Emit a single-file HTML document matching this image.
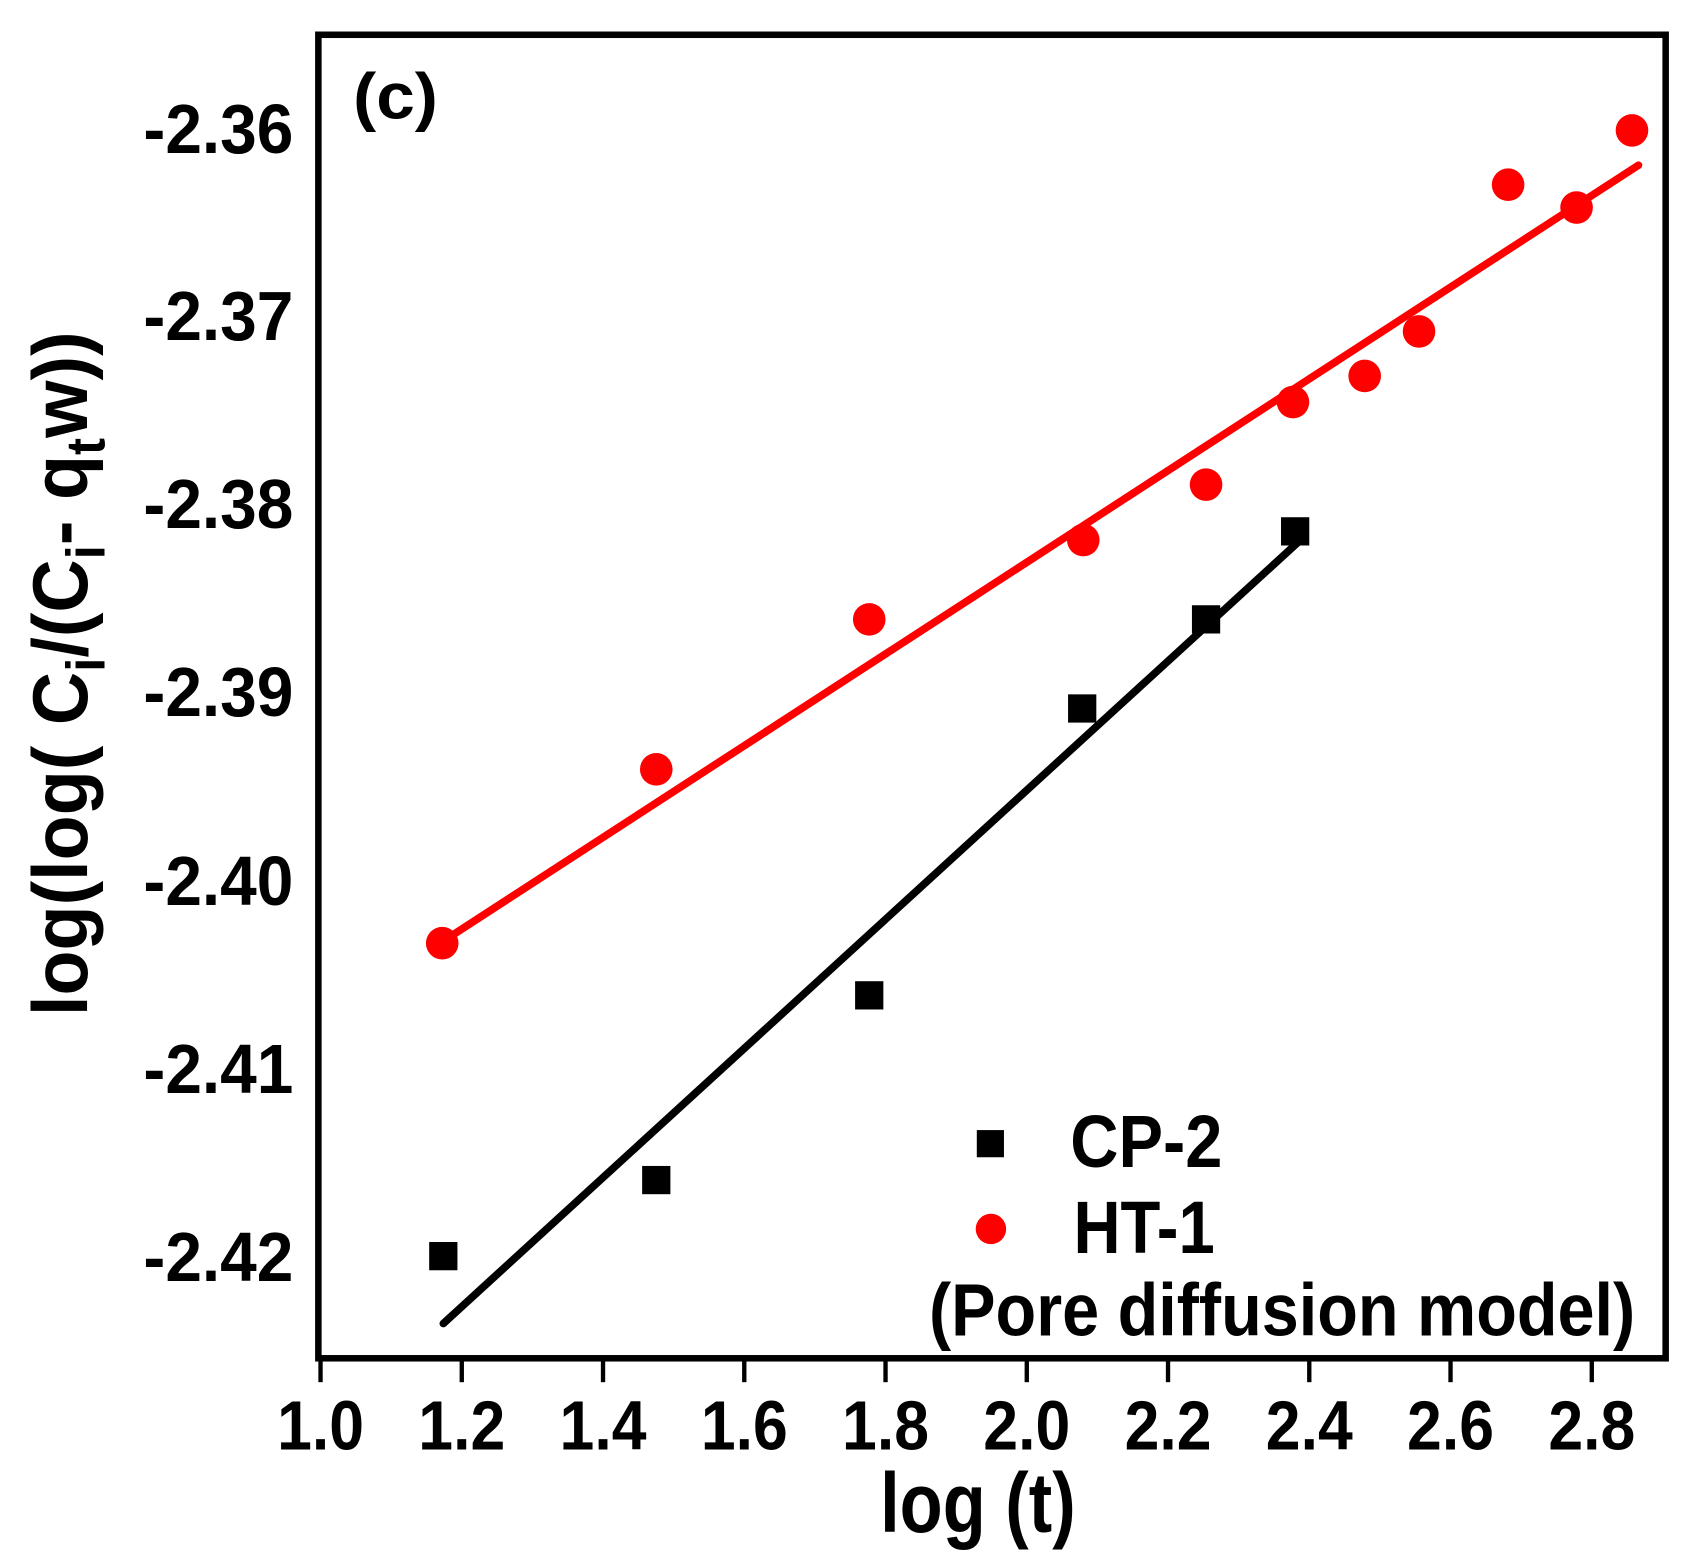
<!DOCTYPE html>
<html><head><style>html,body{margin:0;padding:0;background:#fff}svg{display:block}</style></head>
<body>
<svg width="1695" height="1568" viewBox="0 0 1560 1443" preserveAspectRatio="none" xmlns="http://www.w3.org/2000/svg" font-family="'Liberation Sans', sans-serif" font-weight="bold">
<rect x="293" y="32" width="1240" height="1218" fill="none" stroke="#000" stroke-width="6"/>
<g stroke="#000" stroke-width="4">
<line x1="295" y1="1250" x2="295" y2="1272"/><line x1="425" y1="1250" x2="425" y2="1272"/><line x1="555" y1="1250" x2="555" y2="1272"/><line x1="685" y1="1250" x2="685" y2="1272"/><line x1="815" y1="1250" x2="815" y2="1272"/><line x1="945" y1="1250" x2="945" y2="1272"/><line x1="1075" y1="1250" x2="1075" y2="1272"/><line x1="1205" y1="1250" x2="1205" y2="1272"/><line x1="1335" y1="1250" x2="1335" y2="1272"/><line x1="1465" y1="1250" x2="1465" y2="1272"/>
</g>
<g font-size="64" text-anchor="middle">
<text x="295" y="1334" textLength="80" lengthAdjust="spacingAndGlyphs">1.0</text>
<text x="425" y="1334" textLength="80" lengthAdjust="spacingAndGlyphs">1.2</text>
<text x="555" y="1334" textLength="80" lengthAdjust="spacingAndGlyphs">1.4</text>
<text x="685" y="1334" textLength="80" lengthAdjust="spacingAndGlyphs">1.6</text>
<text x="815" y="1334" textLength="80" lengthAdjust="spacingAndGlyphs">1.8</text>
<text x="945" y="1334" textLength="80" lengthAdjust="spacingAndGlyphs">2.0</text>
<text x="1075" y="1334" textLength="80" lengthAdjust="spacingAndGlyphs">2.2</text>
<text x="1205" y="1334" textLength="80" lengthAdjust="spacingAndGlyphs">2.4</text>
<text x="1335" y="1334" textLength="80" lengthAdjust="spacingAndGlyphs">2.6</text>
<text x="1465" y="1334" textLength="80" lengthAdjust="spacingAndGlyphs">2.8</text>
</g>
<g font-size="64" text-anchor="end">
<text x="270" y="141" textLength="138" lengthAdjust="spacingAndGlyphs">-2.36</text>
<text x="270" y="313" textLength="138" lengthAdjust="spacingAndGlyphs">-2.37</text>
<text x="270" y="486" textLength="138" lengthAdjust="spacingAndGlyphs">-2.38</text>
<text x="270" y="659" textLength="138" lengthAdjust="spacingAndGlyphs">-2.39</text>
<text x="270" y="833" textLength="138" lengthAdjust="spacingAndGlyphs">-2.40</text>
<text x="270" y="1006" textLength="138" lengthAdjust="spacingAndGlyphs">-2.41</text>
<text x="270" y="1179" textLength="138" lengthAdjust="spacingAndGlyphs">-2.42</text>
</g>
<text x="900" y="1410" font-size="78" text-anchor="middle" textLength="180" lengthAdjust="spacingAndGlyphs">log (t)</text>
<text transform="translate(80,935) rotate(-90)" font-size="72" textLength="630" lengthAdjust="spacingAndGlyphs">log(log( C<tspan font-size="50" dy="16">i</tspan><tspan dy="-16">/(C</tspan><tspan font-size="50" dy="16">i</tspan><tspan dy="-16">- q</tspan><tspan font-size="50" dy="16">t</tspan><tspan dy="-16">w))</tspan></text>
<text x="325" y="109" font-size="60" textLength="78" lengthAdjust="spacingAndGlyphs">(c)</text>
<line x1="405" y1="868" x2="1508" y2="152" stroke="#ff0000" stroke-width="7" stroke-linecap="round"/>
<line x1="408" y1="1218" x2="1198" y2="496" stroke="#000" stroke-width="7" stroke-linecap="round"/>
<g fill="#ff0000">
<circle cx="407" cy="868" r="15"/><circle cx="604" cy="708" r="15"/><circle cx="800" cy="570" r="15"/><circle cx="997" cy="497" r="15"/><circle cx="1110" cy="446" r="15"/><circle cx="1190" cy="370" r="15"/><circle cx="1256" cy="346" r="15"/><circle cx="1306" cy="305" r="15"/><circle cx="1388" cy="170" r="15"/><circle cx="1451" cy="191" r="15"/><circle cx="1502" cy="120" r="15"/>
<circle cx="912" cy="1131" r="14"/>
</g>
<g fill="#000">
<rect x="395" y="1143" width="26" height="26"/><rect x="591" y="1073" width="26" height="26"/><rect x="787" y="903" width="26" height="26"/><rect x="983" y="639" width="26" height="26"/><rect x="1097" y="557" width="26" height="26"/><rect x="1179" y="476" width="26" height="26"/>
<rect x="899" y="1040" width="25" height="25"/>
</g>
<text x="985" y="1074" font-size="68" textLength="140" lengthAdjust="spacingAndGlyphs">CP-2</text>
<text x="988" y="1153" font-size="68" textLength="130" lengthAdjust="spacingAndGlyphs">HT-1</text>
<text x="855" y="1229" font-size="68" textLength="650" lengthAdjust="spacingAndGlyphs">(Pore diffusion model)</text>
</svg>
</body></html>
